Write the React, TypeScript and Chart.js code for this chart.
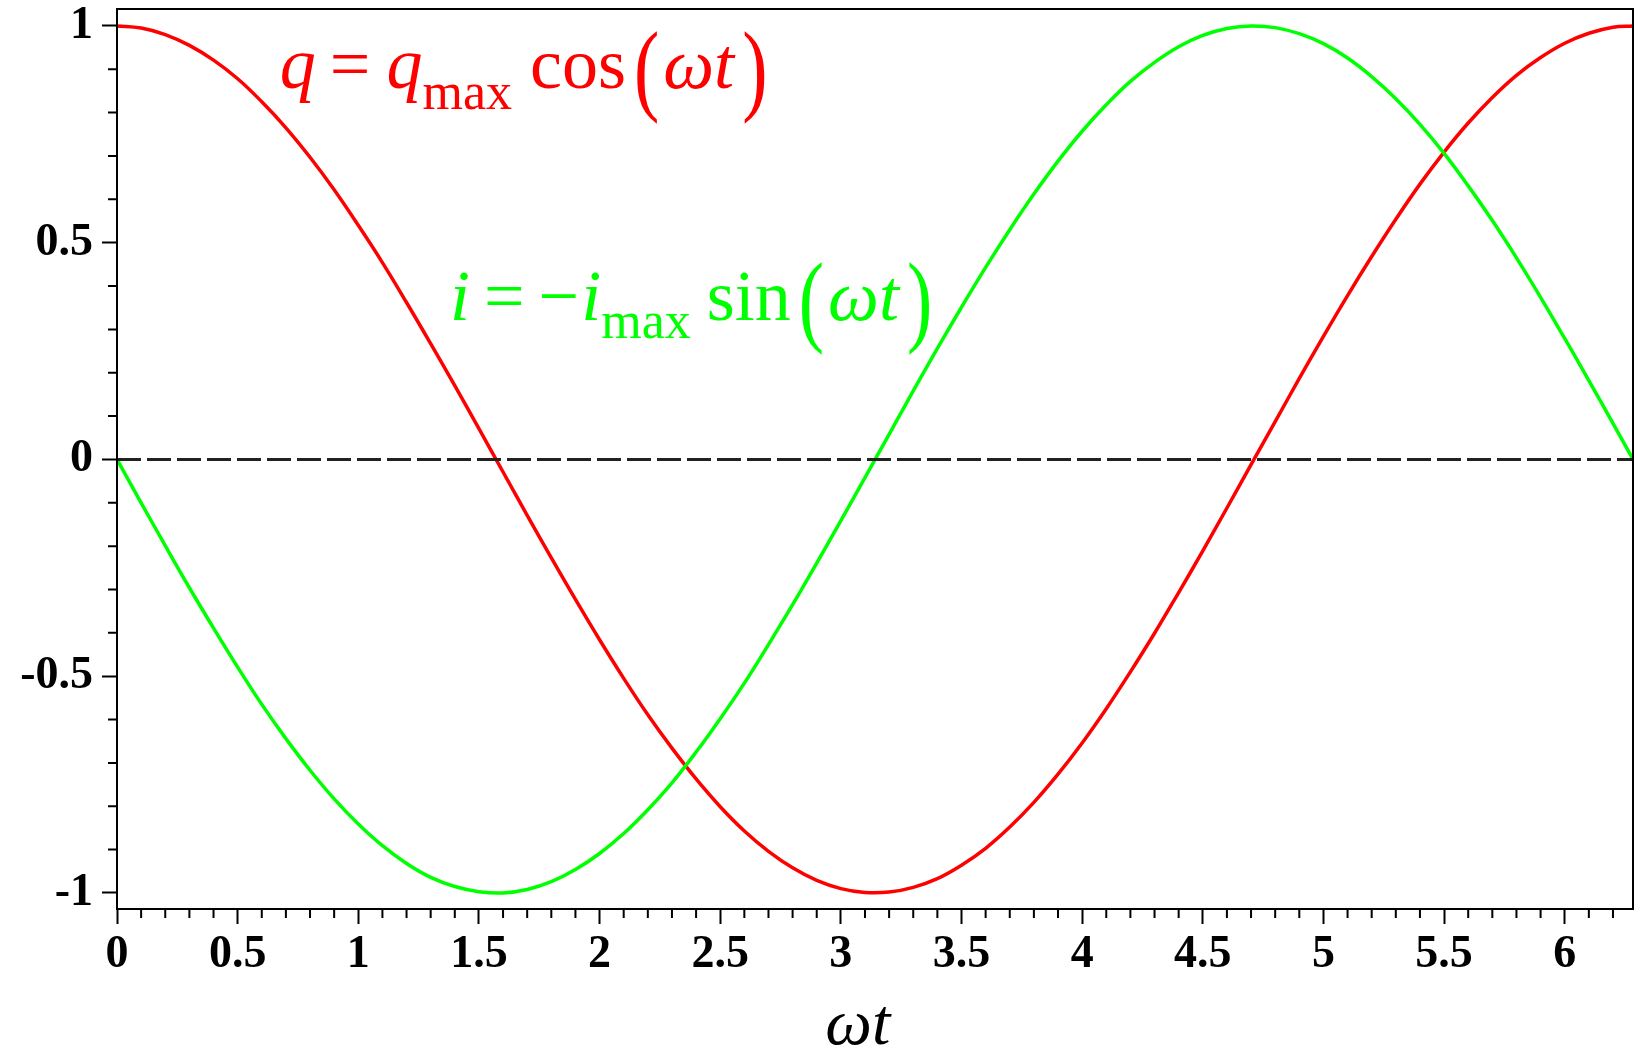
import React, { useEffect, useRef } from "react";
import { Chart, registerables } from "chart.js";

Chart.register(...registerables);

// Angle values ωt (read along the horizontal axis)
const X_VALUES = [
  0, 0.1, 0.2, 0.3, 0.4, 0.5, 0.6, 0.7, 0.8, 0.9, 1.0, 1.1, 1.2, 1.3, 1.4, 1.5,
  1.6, 1.7, 1.8, 1.9, 2.0, 2.1, 2.2, 2.3, 2.4, 2.5, 2.6, 2.7, 2.8, 2.9, 3.0,
  3.1, 3.2, 3.3, 3.4, 3.5, 3.6, 3.7, 3.8, 3.9, 4.0, 4.1, 4.2, 4.3, 4.4, 4.5,
  4.6, 4.7, 4.8, 4.9, 5.0, 5.1, 5.2, 5.3, 5.4, 5.5, 5.6, 5.7, 5.8, 5.9, 6.0,
  6.1, 6.2, 6.283,
];

// Red curve q = q_max cos(ωt)
const Q_VALUES = [
  1.0, 0.995, 0.98, 0.955, 0.921, 0.878, 0.825, 0.765, 0.697, 0.622, 0.54,
  0.454, 0.362, 0.267, 0.17, 0.071, -0.029, -0.129, -0.227, -0.323, -0.416,
  -0.505, -0.589, -0.666, -0.737, -0.801, -0.857, -0.904, -0.942, -0.971,
  -0.99, -0.999, -0.998, -0.987, -0.967, -0.936, -0.897, -0.848, -0.791,
  -0.726, -0.654, -0.575, -0.49, -0.401, -0.307, -0.211, -0.112, -0.012,
  0.087, 0.187, 0.284, 0.378, 0.468, 0.554, 0.635, 0.709, 0.776, 0.835,
  0.886, 0.927, 0.96, 0.983, 0.997, 1.0,
];

// Green curve i = -i_max sin(ωt)
const I_VALUES = [
  0, -0.1, -0.199, -0.296, -0.389, -0.479, -0.565, -0.644, -0.717, -0.783,
  -0.841, -0.891, -0.932, -0.964, -0.985, -0.997, -1.0, -0.992, -0.974,
  -0.946, -0.909, -0.863, -0.808, -0.746, -0.675, -0.598, -0.516, -0.427,
  -0.335, -0.239, -0.141, -0.042, 0.058, 0.158, 0.256, 0.351, 0.443, 0.53,
  0.612, 0.688, 0.757, 0.818, 0.872, 0.916, 0.952, 0.978, 0.994, 1.0, 0.996,
  0.982, 0.959, 0.926, 0.883, 0.832, 0.773, 0.706, 0.631, 0.551, 0.465,
  0.374, 0.279, 0.182, 0.083, 0.0,
];

// Dashed zero reference line
const ZERO_X = [0, 6.283];
const ZERO_Y = [0, 0];

// Axis settings
const X_MIN = 0;
const X_MAX = 6.283;
const Y_MIN = -1.037;
const Y_MAX = 1.039;
const MAJOR_STEP = 0.5;
const MINOR_STEP = 0.1;

const RED = "#ff0000";
const GREEN = "#00ff00";
const SERIF = "'Liberation Serif', 'Times New Roman', serif";

type Part = { t: string; font: string; gap?: number; dy?: number; sy?: number };

function drawMath(ctx: CanvasRenderingContext2D, x0: number, yb: number, parts: Part[], color: string) {
  ctx.fillStyle = color;
  ctx.textAlign = "left";
  ctx.textBaseline = "alphabetic";
  let x = x0;
  for (const p of parts) {
    x += p.gap || 0;
    ctx.font = p.font;
    const sy = p.sy || 1;
    const by = yb + (p.dy || 0);
    ctx.save();
    ctx.translate(x, by);
    ctx.scale(1, sy);
    ctx.fillText(p.t, 0, 0);
    ctx.restore();
    x += ctx.measureText(p.t).width;
  }
}

const MAIN_I = `italic 72px ${SERIF}`;
const MAIN_R = `72px ${SERIF}`;
const SUB = `52px ${SERIF}`;
const PAREN = `76px ${SERIF}`;

const RED_PARTS: Part[] = [
  { t: "q", font: MAIN_I },
  { t: "=", font: MAIN_R, gap: 14 },
  { t: "q", font: MAIN_I, gap: 16 },
  { t: "max", font: SUB, dy: 21 },
  { t: "cos", font: MAIN_R, gap: 18 },
  { t: "(", font: PAREN, gap: 8, dy: 14, sy: 1.35 },
  { t: "ωt", font: MAIN_I, gap: 4 },
  { t: ")", font: PAREN, gap: 8, dy: 14, sy: 1.35 },
];

const GREEN_PARTS: Part[] = [
  { t: "i", font: MAIN_I },
  { t: "=", font: MAIN_R, gap: 14 },
  { t: "−", font: MAIN_R, gap: 14 },
  { t: "i", font: MAIN_I, gap: 2 },
  { t: "max", font: SUB, dy: 18 },
  { t: "sin", font: MAIN_R, gap: 16 },
  { t: "(", font: PAREN, gap: 8, dy: 13, sy: 1.35 },
  { t: "ωt", font: MAIN_I, gap: 4 },
  { t: ")", font: PAREN, gap: 8, dy: 13, sy: 1.35 },
];

const fmtTick = (v: number | string) => {
  const n = Number(v);
  return String(Number(n.toFixed(2)));
};

const overlayPlugin = {
  id: "overlay",
  afterDatasetsDraw(chart: any) {
    const { ctx, chartArea: a, scales } = chart;
    const xs = scales.x;
    const ys = scales.y;
    ctx.save();
    // minor ticks
    ctx.strokeStyle = "#000";
    ctx.lineWidth = 2;
    ctx.beginPath();
    const nx = Math.floor(X_MAX / MINOR_STEP + 1e-6);
    for (let i = 1; i <= nx; i++) {
      if (i % 5 === 0) continue;
      const px = xs.getPixelForValue(i * MINOR_STEP);
      ctx.moveTo(px, a.bottom);
      ctx.lineTo(px, a.bottom + 9);
    }
    for (let i = -10; i <= 10; i++) {
      if (i % 5 === 0) continue;
      const py = ys.getPixelForValue(i * MINOR_STEP);
      ctx.moveTo(a.left - 9, py);
      ctx.lineTo(a.left, py);
    }
    ctx.stroke();
    // frame
    ctx.lineWidth = 2;
    ctx.strokeRect(a.left, a.top, a.right - a.left, a.bottom - a.top);

    // annotations
    drawMath(ctx, xs.getPixelForValue(0.675), ys.getPixelForValue(0.856), RED_PARTS, RED);
    drawMath(ctx, xs.getPixelForValue(1.38), ys.getPixelForValue(0.321), GREEN_PARTS, GREEN);

    // axis title
    ctx.fillStyle = "#000";
    ctx.font = `italic 66px ${SERIF}`;
    ctx.textAlign = "center";
    ctx.textBaseline = "alphabetic";
    ctx.fillText("ωt", xs.getPixelForValue(3.07), a.bottom + 135);
    ctx.restore();
  },
};

export default function App() {
  const ref = useRef<HTMLCanvasElement | null>(null);

  useEffect(() => {
    document.body.style.margin = "0";
    if (!ref.current) return;
    const toXY = (xv: number[], yv: number[]) => xv.map((x, i) => ({ x, y: yv[i] }));
    const chart = new Chart(ref.current, {
      type: "line",
      data: {
        datasets: [
          {
            label: "zero",
            data: toXY(ZERO_X, ZERO_Y),
            borderColor: "#222",
            borderWidth: 3,
            borderDash: [24, 6],
            pointRadius: 0,
            tension: 0,
          },
          {
            label: "i",
            data: toXY(X_VALUES, I_VALUES),
            borderColor: GREEN,
            borderWidth: 3.5,
            pointRadius: 0,
            tension: 0.4,
          },
          {
            label: "q",
            data: toXY(X_VALUES, Q_VALUES),
            borderColor: RED,
            borderWidth: 3.5,
            pointRadius: 0,
            tension: 0.4,
          },
        ],
      },
      options: {
        animation: false,
        responsive: false,
        layout: { padding: { top: 9, right: 2, left: 0, bottom: 0 } },
        plugins: { legend: { display: false }, tooltip: { enabled: false } },
        events: [],
        scales: {
          x: {
            type: "linear",
            min: X_MIN,
            max: X_MAX,
            afterFit: (s: any) => {
              s.height = 141;
              s.paddingLeft = 0;
              s.paddingRight = 0;
            },
            ticks: {
              stepSize: MAJOR_STEP,
              includeBounds: false,
              autoSkip: false,
              maxRotation: 0,
              padding: 4,
              color: "#000",
              font: { family: SERIF, size: 46, weight: "bold" },
              callback: fmtTick,
            },
            grid: {
              display: true,
              drawOnChartArea: false,
              drawTicks: true,
              tickLength: 15,
              tickWidth: 2,
              tickColor: "#000",
            },
            border: { display: true, color: "#000", width: 2 },
          },
          y: {
            type: "linear",
            min: Y_MIN,
            max: Y_MAX,
            afterFit: (s: any) => {
              s.width = 117;
              s.paddingTop = 0;
              s.paddingBottom = 0;
            },
            ticks: {
              stepSize: MAJOR_STEP,
              includeBounds: false,
              padding: 9,
              color: "#000",
              font: { family: SERIF, size: 46, weight: "bold" },
              callback: fmtTick,
            },
            grid: {
              display: true,
              drawOnChartArea: false,
              drawTicks: true,
              tickLength: 15,
              tickWidth: 2,
              tickColor: "#000",
            },
            border: { display: true, color: "#000", width: 2 },
          },
        },
      },
      plugins: [overlayPlugin],
    });
    return () => chart.destroy();
  }, []);

  return (
    <div style={{ position: "absolute", left: 0, top: 0, width: 1635, height: 1050, background: "#fff" }}>
      <canvas ref={ref} width={1635} height={1050} style={{ display: "block" }} />
    </div>
  );
}
